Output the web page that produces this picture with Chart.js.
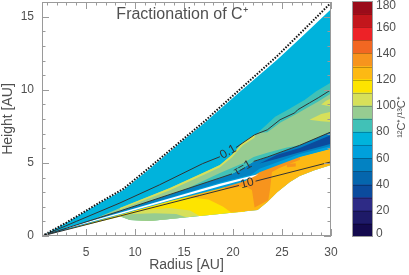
<!DOCTYPE html>
<html>
<head>
<meta charset="utf-8">
<script src="https://cdn.jsdelivr.net/npm/chart.js@4/dist/chart.umd.min.js"></script>
<style>
html, body { margin: 0; padding: 0; background: #fff; overflow: hidden; }
#wrap { position: relative; width: 409px; height: 275px; }
#main { position: absolute; left: 0; top: 0; }
#bar { position: absolute; left: 340px; top: 0; }
</style>
</head>
<body>
<div id="wrap">
<canvas id="main" width="409" height="275"></canvas>
<canvas id="bar" width="69" height="275"></canvas>
</div>
<script>
// axis ticks
const xTicks = [5, 10, 15, 20, 25, 30]
const yTicks = [0, 5, 10, 15]
const barTicks = [0, 20, 40, 60, 80, 100, 120, 140, 160, 180]

// colour levels of 12C+/13C+ (0..180, step 10) and their colours
const levels = [0, 10, 20, 30, 40, 50, 60, 70, 80, 90, 100, 110, 120, 130, 140, 150, 160, 170, 180]
const palette = ['#140a4e', '#1e1a68', '#2e2b86', '#0b4b9d', '#0566ad', '#0382c2', '#00a0dc', '#00b3dc',
    '#41c1b7', '#97cc91', '#d7e05a', '#fde400', '#fdb913', '#f7941d', '#f26722', '#ed2227', '#c3161c', '#9a0c1a']

// boundaries, [radius AU, height AU]
const topSurface = [[0.5,0],[3,0.9],[6.4,2.25],[8.8,3.15],[11.5,4.6],[14.6,6.37],[17.1,7.74],[20.5,9.75],[24.5,12.05],[27,13.6],[30,15.5]]
const diskEdge = [[0.5,0],[3,0.92],[6.4,2.3],[8.8,3.22],[11.5,4.7],[14.6,6.45],[17.1,7.85],[20.5,9.9],[24.5,12.3],[27,13.95],[30,15.95]]
const bottomEdge = [[0.5,0],[8.46,1.37],[9.48,1.1],[11.5,1.03],[13.56,1.16],[16.6,1.37],[19.6,1.58],[22.5,1.78],[23.5,2.33],[24.5,3.0],[25.8,3.7],[26.8,4.1],[28.3,4.5],[30,4.86]]

// contour lines (tau = 0.1, 1, 10)
const tau01Line = [[0.5,0],[4,1.0],[8.46,2.26],[12.5,3.5],[16.9,4.95],[18.66,5.42],[19.5,5.75],[20.3,6.05],[22.2,6.92],[23.5,7.26],[24.8,7.95],[26.3,8.42],[26.6,8.63],[27.8,9.1],[28.7,9.45],[30,10.0]]
const tau1Line = [[0.5,0],[8.46,1.71],[18.66,3.97],[19.9,4.25],[21,4.65],[22.1,5.1],[23.5,5.4],[26.8,6.2],[30,7.12]]
const tau10Line = [[0.5,0],[8.5,1.375],[16.6,2.77],[20.6,3.455],[21.45,3.6],[22.3,3.75],[30,5.07]]

// inner band edges
const blueMidBottom = [[0.5,0],[8.46,1.62],[13.56,2.62],[18.66,3.66],[21.9,4.2],[22.7,4.6],[26.8,5.6],[30,6.15]]
const blueBottom = [[0.5,0],[8.46,1.45],[13.56,2.39],[18.66,3.24],[21.2,3.74],[22.7,4.36],[26.8,5.41],[30,5.96]]

// closed patches
const darkBluePatch = [[22.7,4.95],[24.5,5.55],[26.8,6.02],[30,6.9],[30,6.3],[26.8,5.72],[24.5,5.28]]
const whiteStrip = [[3,0.57],[8.46,1.59],[13.56,2.58],[18.66,3.57],[21.9,4.12],[22.6,4.22],[21.9,3.99],[18.66,3.41],[13.56,2.45],[8.46,1.49],[3,0.52]]
const greenZone = [[5.4,1.05],[8.46,1.92],[13.56,3.29],[17.13,4.38],[18.66,4.86],[19.9,5.55],[21,6.4],[22.2,6.92],[23.5,7.26],[24.8,7.95],[26.3,8.42],[26.6,8.63],[27.8,9.1],[28.7,9.45],[30,10.0],
    [30,7.12],[26.8,6.2],[23.5,5.4],[22.1,5.1],[21,4.65],[19.9,4.25],[18.66,3.97],[8.46,1.71]]
const greenLining = [[8.46,1.92],[13.56,3.29],[17.13,4.38],[18.66,4.86],[19.9,5.55],[21,6.4],[22.2,6.92],[22.2,6.72],[21,6.2],[19.9,5.38],[18.66,4.7],[17.13,4.22],[13.56,3.12],[8.46,1.82]]
const tealLower = [[15,3.15],[18.66,4.3],[21,4.98],[22.1,5.4],[23.5,5.7],[25.5,6.05],[26.8,6.2],[23.5,5.4],[22.1,5.1],[21,4.65],[19.9,4.25],[18.66,3.97],[15,3.16]]
const tealUpper = [[22.5,7.05],[24.3,8.15],[25.5,8.6],[27.3,9.3],[28.5,9.9],[30,10.5],[30,9.75],[28.7,9.2],[27.8,8.85],[26.6,8.4],[24.8,7.75],[23.5,7.1]]
const ygPatchA = [[27.8,7.95],[29,7.85],[30,7.8],[30,8.5],[29,8.35]]
const ygPatchB = [[29.0,9.0],[30,8.85],[30,9.4],[29.5,9.25]]
const greenBlob = [[8.3,1.37],[9.48,1.1],[11.5,1.03],[13.56,1.16],[15.2,1.28],[14.2,1.5],[12,1.55],[9.8,1.5]]
const yellowZone = [[3,0.45],[8.46,1.5],[13.56,2.45],[18.66,3.29],[21.2,3.77],[21.2,1.65],[19.6,1.58],[16.6,1.37],[15.6,1.75],[13.56,1.92],[11,1.78],[8.46,1.32],[3,0.42]]
const amberZone = [[15,2.69],[18.66,3.29],[21.2,3.77],[22.7,4.38],[26.8,5.41],[30,5.96],[30,4.86],[28.3,4.5],[26.8,4.1],[25.8,3.7],[24.5,3.0],[23.5,2.33],[22.5,1.78],[19.8,1.6],[19,2.0],[17.5,2.5]]
const orangeZone = [[19.17,3.36],[21.2,3.77],[22.74,4.38],[24.79,5.0],[26.83,5.41],[26.83,5.21],[24.79,4.66],[23.97,4.38],[23.77,3.15],[23.6,2.45],[22.2,1.95],[21.93,3.15],[21.2,3.42],[19.17,3.22]]
const orangeDot = [[25.5,4.7],[26.4,4.75],[26.4,4.98],[25.5,4.92]]

const contourLabels = [
    {text: '0.1', line: tau01Line, at: [19.5, 5.75], gap: [18.66, 20.3]},
    {text: '\u03c4=1', line: tau1Line, at: [21.0, 4.65], gap: [19.9, 22.1]},
    {text: '10', line: tau10Line, at: [21.45, 3.6], gap: [20.6, 22.3]}
]

function band(upper, lower) {
    return upper.concat(lower.slice().reverse())
}
function colorOf(v) {
    if (v == null) return '#ffffff'
    return palette[Math.min(palette.length - 1, Math.floor(v / 10))]
}
function withGap(line, x0, x1) {
    const a = line.filter(p => p[0] <= x0)
    const b = line.filter(p => p[0] >= x1)
    return a.concat([[(x0 + x1) / 2, null]], b)
}
const toXY = pts => pts.map(p => ({x: p[0], y: p[1]}))

// back to front
const regions = [
    {pts: band(topSurface, bottomEdge), value: 75},
    {pts: band(blueBottom, bottomEdge), value: 105},
    {pts: greenBlob, value: 95},
    {pts: yellowZone, value: 115},
    {pts: amberZone, value: 125},
    {pts: orangeZone, value: 135},
    {pts: orangeDot, value: 135},
    {pts: band(tau1Line, blueBottom), value: 65},
    {pts: band(tau1Line, blueMidBottom), value: 55},
    {pts: darkBluePatch, value: 35},
    {pts: whiteStrip, value: null},
    {pts: greenZone, value: 95},
    {pts: greenLining, value: 105},
    {pts: tealLower, value: 85},
    {pts: tealUpper, value: 85},
    {pts: ygPatchA, value: 105},
    {pts: ygPatchB, value: 105}
]

const layers = regions.map(r => ({
    data: toXY(r.pts),
    showLine: true,
    fill: 'shape',
    backgroundColor: colorOf(r.value),
    borderWidth: 0,
    pointRadius: 0
}))
contourLabels.forEach(c => {
    layers.push({
        data: toXY(withGap(c.line, c.gap[0], c.gap[1])),
        showLine: true, fill: false, borderColor: '#333', borderWidth: 1, pointRadius: 0
    })
})
layers.push({
    data: toXY(diskEdge),
    showLine: true, fill: false, borderColor: '#111', borderWidth: 2, borderDash: [1.5, 1.5], pointRadius: 0
})

const labelFont = '12px "Liberation Sans", Arial, sans-serif'
const textColor = '#505050'

const frameTicks = {
    id: 'frameTicks',
    afterDatasetsDraw(chart) {
        const {ctx, chartArea: a, scales: {x, y}} = chart
        ctx.save()
        ctx.strokeStyle = '#9a9a9a'
        ctx.lineWidth = 1
        ctx.strokeRect(a.left + 0.5, a.top + 0.5, a.right - a.left - 1, a.bottom - a.top - 1)
        ctx.beginPath()
        for (let v = Math.ceil(x.min); v <= x.max; v++) {
            const px = Math.round(x.getPixelForValue(v)) + 0.5
            const len = v % 5 === 0 ? 7 : 3.5
            ctx.moveTo(px, a.bottom); ctx.lineTo(px, a.bottom - len)
            ctx.moveTo(px, a.top); ctx.lineTo(px, a.top + len)
        }
        for (let v = Math.ceil(y.min); v <= y.max; v++) {
            const py = Math.round(y.getPixelForValue(v)) + 0.5
            const len = v % 5 === 0 ? 7 : 3.5
            ctx.moveTo(a.left, py); ctx.lineTo(a.left + len, py)
            ctx.moveTo(a.right, py); ctx.lineTo(a.right - len, py)
        }
        ctx.stroke()

        // contour labels
        ctx.fillStyle = '#333'
        ctx.font = '12px "Liberation Sans", Arial, sans-serif'
        ctx.textAlign = 'center'
        ctx.textBaseline = 'middle'
        contourLabels.forEach(c => {
            const p0 = c.line.find(p => p[0] === c.gap[0])
            const p1 = c.line.find(p => p[0] === c.gap[1])
            const ang = Math.atan2(y.getPixelForValue(p1[1]) - y.getPixelForValue(p0[1]),
                x.getPixelForValue(p1[0]) - x.getPixelForValue(p0[0]))
            ctx.save()
            ctx.translate(x.getPixelForValue(c.at[0]), y.getPixelForValue(c.at[1]))
            ctx.rotate(ang)
            ctx.fillText(c.text, 0, 0)
            ctx.restore()
        })

        // titles
        ctx.fillStyle = textColor
        ctx.font = '16px "Liberation Sans", Arial, sans-serif'
        ctx.fillText('Fractionation of C\u207a', a.left + 140, a.top + 13)
        ctx.font = '14px "Liberation Sans", Arial, sans-serif'
        ctx.fillText('Radius [AU]', (a.left + a.right) / 2, 265)
        ctx.save()
        ctx.translate(8, (a.top + a.bottom) / 2)
        ctx.rotate(-Math.PI / 2)
        ctx.fillText('Height [AU]', 0, 0)
        ctx.restore()
        ctx.restore()
    }
}

function noEdgePadding(s) {
    s.paddingTop = 0
    s.paddingBottom = 0
    s.paddingLeft = 0
    s.paddingRight = 0
}

new Chart(document.getElementById('main'), {
    type: 'scatter',
    data: {datasets: layers.slice().reverse()},
    options: {
        responsive: false,
        animation: false,
        layout: {padding: {top: 2, right: 78, left: 0, bottom: 0}},
        plugins: {legend: {display: false}, tooltip: {enabled: false}},
        scales: {
            x: {
                type: 'linear', min: 0.5, max: 30,
                afterBuildTicks: s => { s.ticks = xTicks.map(v => ({value: v})) },
                afterFit: s => { s.height = 39; noEdgePadding(s) },
                grid: {display: false, drawTicks: false},
                border: {display: false},
                ticks: {padding: 9, color: textColor, font: {family: '"Liberation Sans", Arial', size: 12}, maxRotation: 0, autoSkip: false}
            },
            y: {
                type: 'linear', min: 0, max: 16,
                afterBuildTicks: s => { s.ticks = yTicks.map(v => ({value: v})) },
                afterFit: s => { s.width = 42; noEdgePadding(s) },
                grid: {display: false, drawTicks: false},
                border: {display: false},
                ticks: {padding: 8, color: textColor, font: {family: '"Liberation Sans", Arial', size: 12}, autoSkip: false}
            }
        }
    },
    plugins: [frameTicks]
})

// colour bar
const barDeco = {
    id: 'barDeco',
    afterDatasetsDraw(chart) {
        const {ctx, chartArea: a, scales: {y}} = chart
        ctx.save()
        ctx.strokeStyle = 'rgba(0,0,0,0.25)'
        ctx.lineWidth = 1
        ctx.beginPath()
        levels.slice(1, -1).forEach(v => {
            const py = Math.round(y.getPixelForValue(v)) + 0.5
            ctx.moveTo(a.left, py); ctx.lineTo(a.right, py)
        })
        ctx.stroke()
        ctx.strokeStyle = '#9a9a9a'
        ctx.strokeRect(a.left + 0.5, a.top + 0.5, a.right - a.left - 1, a.bottom - a.top - 1)
        ctx.fillStyle = textColor
        ctx.font = labelFont
        ctx.textAlign = 'left'
        ctx.textBaseline = 'middle'
        barTicks.forEach(v => {
            const py = Math.min(a.bottom - 3, Math.max(a.top + 5, y.getPixelForValue(v)))
            ctx.fillText(String(v), a.right + 3, py)
        })
        ctx.font = '11px "Liberation Sans", Arial, sans-serif'
        ctx.textAlign = 'center'
        ctx.translate(62, 117)
        ctx.rotate(-Math.PI / 2)
        ctx.fillText('\u00b9\u00b2C\u207a/\u00b9\u00b3C\u207a', 0, 0)
        ctx.restore()
    }
}

new Chart(document.getElementById('bar'), {
    type: 'bar',
    data: {
        labels: [''],
        datasets: palette.map((c, i) => ({
            data: [levels[i + 1] - levels[i]],
            backgroundColor: c,
            borderWidth: 0,
            barPercentage: 1,
            categoryPercentage: 1
        }))
    },
    options: {
        responsive: false,
        animation: false,
        layout: {padding: {left: 12, top: 1, bottom: 38, right: 0}},
        plugins: {legend: {display: false}, tooltip: {enabled: false}},
        scales: {
            x: {stacked: true, display: false},
            y: {
                stacked: true, min: 0, max: 180, position: 'right',
                afterFit: s => { s.width = 36; noEdgePadding(s) },
                grid: {display: false, drawTicks: false},
                border: {display: false},
                ticks: {display: false}
            }
        }
    },
    plugins: [barDeco]
})
</script>
</body>
</html>
